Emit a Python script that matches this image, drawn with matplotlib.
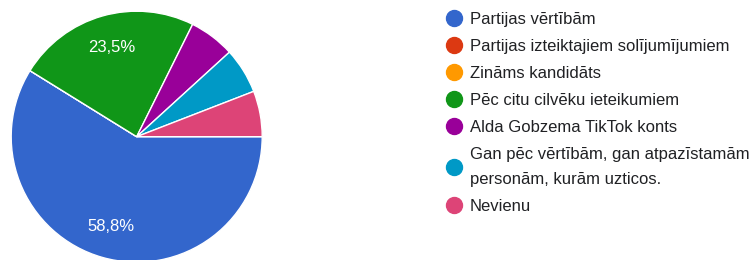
import matplotlib
matplotlib.use('Agg')
import matplotlib.pyplot as plt
from matplotlib.lines import Line2D

plt.rcParams['font.family'] = ['Liberation Sans', 'DejaVu Sans']

# atbilžu dati (17 respondenti)
labels = ['Partijas vērtībām',
          'Partijas izteiktajiem solījumījumiem',
          'Zināms kandidāts',
          'Pēc citu cilvēku ieteikumiem',
          'Alda Gobzema TikTok konts',
          'Gan pēc vērtībām, gan atpazīstamām\npersonām, kurām uzticos.',
          'Nevienu']
counts = [10, 0, 0, 4, 1, 1, 1]
colors = ['#3366cc', '#dc3912', '#ff9900', '#109618', '#990099', '#0099c6', '#dd4477']


def pct_label(p):
    # mazās daļas bez uzraksta
    if p < 10:
        return ''
    return f'{p:.1f}%'.replace('.', ',')


fig = plt.figure(figsize=(7.55, 2.6), dpi=100)
ax = fig.add_axes([11.2 / 755, -2.2 / 260, 251 / 755, 251 / 260])
wedges, texts, autotexts = ax.pie(counts, colors=colors, startangle=0, counterclock=False,
                                  autopct=pct_label, pctdistance=0.74,
                                  wedgeprops=dict(edgecolor='white', linewidth=1),
                                  textprops=dict(color='white', fontsize=12))
ax.set_xlim(-1, 1)
ax.set_ylim(-1, 1)
ax.set_aspect('equal')
ax.axis('off')

handles = [Line2D([], [], marker='o', linestyle='', markersize=11.5,
                  markerfacecolor=c, markeredgecolor=c) for c in colors]
leg = fig.legend(handles, labels, loc='upper left', bbox_to_anchor=(445.7 / 755, 1 - 12 / 260),
                 frameon=False, fontsize=12, handlelength=1.0, handletextpad=0.46,
                 labelspacing=0.72, borderaxespad=0, borderpad=0)
for t in leg.get_texts():
    t.set_color('#202124')
    t.set_linespacing(1.8)

plt.savefig('out.png', dpi=100)
